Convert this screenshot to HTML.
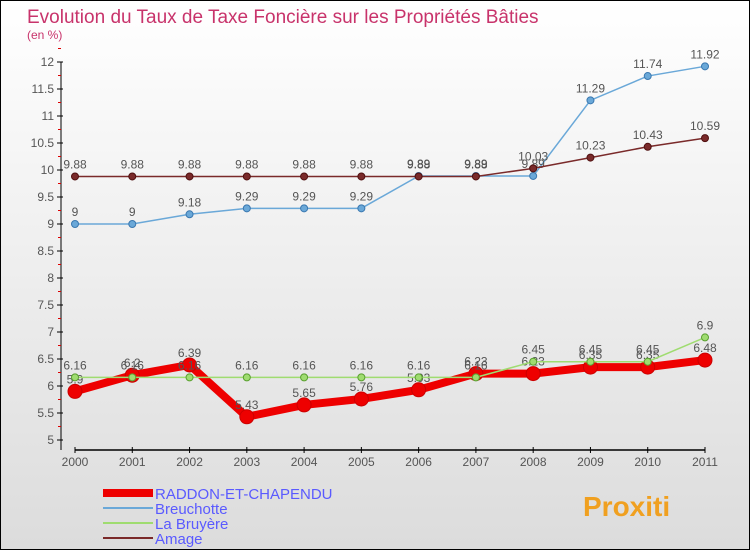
<!DOCTYPE html>
<html><head><meta charset="utf-8"><style>
body{margin:0}
#c{width:748px;height:548px;border:1px solid #000;background:linear-gradient(#fff,#dcdcdc);position:relative;font-family:"Liberation Sans",sans-serif;overflow:hidden}
</style></head><body>
<div id="c">
<svg id="s" width="748" height="548"></svg>
</div>
<script>
const years=["2000","2001","2002","2003","2004","2005","2006","2007","2008","2009","2010","2011"];
const raddon=[5.9,6.2,6.39,5.43,5.65,5.76,5.93,6.23,6.23,6.35,6.35,6.48];
const breuchotte=[9,9,9.18,9.29,9.29,9.29,9.89,9.89,9.89,11.29,11.74,11.92];
const bruyere=[6.16,6.16,6.16,6.16,6.16,6.16,6.16,6.16,6.45,6.45,6.45,6.9];
const amage=[9.88,9.88,9.88,9.88,9.88,9.88,9.88,9.88,10.03,10.23,10.43,10.59];
const yTicks=["5","5.5","6","6.5","7","7.5","8","8.5","9","9.5","10","10.5","11","11.5","12"];
const NS="http://www.w3.org/2000/svg",s=document.getElementById('s');
const X=i=>74+i*(630/11), Y=v=>439-(v-5)*54;
function el(t,a,p){const e=document.createElementNS(NS,t);for(const k in a)e.setAttribute(k,a[k]);(p||s).appendChild(e);return e;}
function tx(x,y,str,a){const e=el('text',Object.assign({x:x,y:y,'font-size':12,fill:'#555'},a||{}));e.textContent=str;return e;}
let t=tx(26,22,"Evolution du Taux de Taxe Foncière sur les Propriétés Bâties",{'font-size':19,fill:'#c8336b'});

t=tx(26,38,"(en %)",{'font-size':12,fill:'#c8336b'});

let ax=el('line',{x1:60,y1:Y(12),x2:60,y2:449,stroke:'#000'});

ax=el('line',{x1:X(0),y1:449,x2:X(11),y2:449,stroke:'#000','stroke-width':1.5});

yTicks.forEach(v=>{const y=Y(+v);el('line',{x1:56,x2:62,y1:y,y2:y,stroke:'#000'});
 el('line',{x1:57,x2:60,y1:Y(+v+0.25),y2:Y(+v+0.25),stroke:'#d00'});
 const l=tx(53,y+4,v,{'text-anchor':'end'});});
years.forEach((yr,i)=>{el('line',{x1:X(i),x2:X(i),y1:446,y2:452,stroke:'#000'});
 const l=tx(X(i),465,yr,{'text-anchor':'middle'});});
function series(d,col,w,r,name,dark){
 const g=el('g',{});
 el('polyline',{points:d.map((v,i)=>X(i)+','+Y(v)).join(' '),fill:'none',stroke:col,'stroke-width':w},g);
 d.forEach((v,i)=>{const c=el('circle',{cx:X(i),cy:Y(v),r:r,fill:col,stroke:dark,'stroke-width':1},g);
  
  tx(X(i),Y(v)-8,String(v),{'text-anchor':'middle',fill:'#555'},g);});
}
series(breuchotte,'#6aa8d8',1.5,3.5,'breuchotte-series','#3a78b0');
series(amage,'#7a2a2a',1.5,3.5,'amage-series','#501010');
series(raddon,'#ee0000',8,7,'raddon-series','#c00');
series(bruyere,'#9fdc70',1.5,3.5,'bruyere-series','#5aa030');
const leg=[["RADDON-ET-CHAPENDU",'#ee0000',8],["Breuchotte",'#6aa8d8',2],["La Bruyère",'#9fdc70',2],["Amage",'#7a2a2a',2]];
leg.forEach((l,i)=>{const y=492+i*15;const g=el('g',{});
 el('line',{x1:102,x2:152,y1:y,y2:y,stroke:l[1],'stroke-width':l[2]},g);
 tx(154,y+6,l[0],{'font-size':15,fill:'#5a5aff'},g);});
t=tx(582,515,"Proxiti",{'font-size':28,'font-weight':'bold',fill:'#f0a020'});

</script>
</body></html>
